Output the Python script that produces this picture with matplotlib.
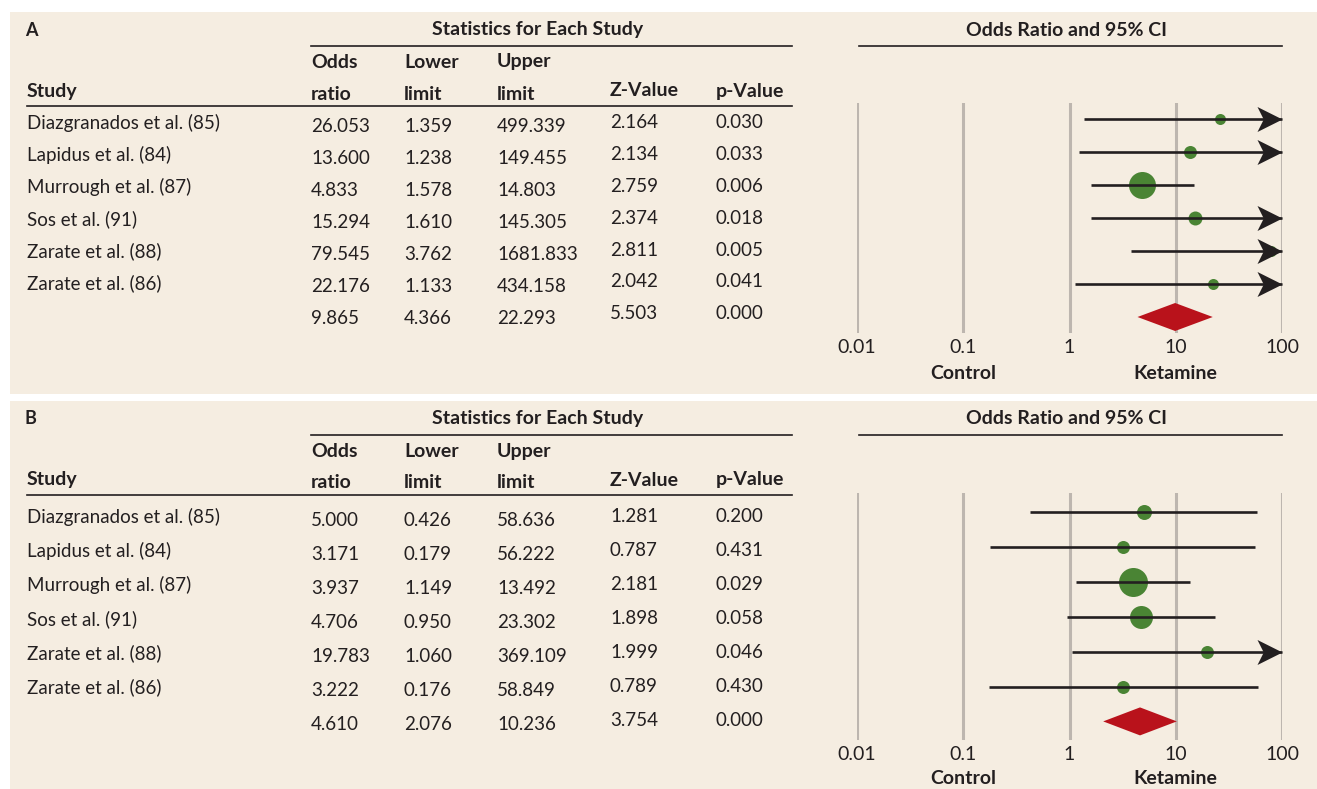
import matplotlib.pyplot as plt
from matplotlib.lines import Line2D
from matplotlib.patches import Rectangle
from matplotlib.path import Path
import matplotlib.transforms as mtransforms

plt.rcParams['font.family'] = ['Lato', 'DejaVu Sans']

# データ
studies = ["Diazgranados et al. (85)", "Lapidus et al. (84)", "Murrough et al. (87)",
           "Sos et al. (91)", "Zarate et al. (88)", "Zarate et al. (86)"]

# A
or_a = [26.053, 13.600, 4.833, 15.294, 79.545, 22.176]
lower_a = [1.359, 1.238, 1.578, 1.610, 3.762, 1.133]
upper_a = [499.339, 149.455, 14.803, 145.305, 1681.833, 434.158]
z_a = [2.164, 2.134, 2.759, 2.374, 2.811, 2.042]
p_a = [0.030, 0.033, 0.006, 0.018, 0.005, 0.041]
weight_a = [11, 13, 27, 14, 11, 11]  # 相対的な重み（円の大きさ）
summary_a = [9.865, 4.366, 22.293, 5.503, 0.000]

# B
or_b = [5.000, 3.171, 3.937, 4.706, 19.783, 3.222]
lower_b = [0.426, 0.179, 1.149, 0.950, 1.060, 0.176]
upper_b = [58.636, 56.222, 13.492, 23.302, 369.109, 58.849]
z_b = [1.281, 0.787, 2.181, 1.898, 1.999, 0.789]
p_b = [0.200, 0.431, 0.029, 0.058, 0.046, 0.430]
weight_b = [15, 13, 29, 23, 13, 13]
summary_b = [4.610, 2.076, 10.236, 3.754, 0.000]

ticks = [0.01, 0.1, 1, 10, 100]
tick_labels = ["0.01", "0.1", "1", "10", "100"]

W, H = 1317, 789
BG = "#F5EDE1"
TXT = "#231F20"
GREEN = "#4A8434"
RED = "#B9121B"
GRID = "#BDB6AF"
FS_BODY = 13.5
FS_HEAD = 14

fig = plt.figure(figsize=(W / 100, H / 100), dpi=100)
fig.patch.set_facecolor("white")


def fx(x):
    return x / W


def fy(y):
    return 1 - y / H


def text(x, y, s, **kw):
    kw.setdefault("color", TXT)
    kw.setdefault("va", "center")
    fig.text(fx(x), fy(y), s, **kw)


def hline(x0, x1, y, lw=1.2):
    fig.add_artist(Line2D([fx(x0), fx(x1)], [fy(y), fy(y)], color=TXT, lw=lw))


# 矢じり用のマーカー（先端が原点）
arrow_path = Path([(0, 0), (-1, 0.5), (-0.75, 0), (-1, -0.5), (0, 0)],
                  [Path.MOVETO, Path.LINETO, Path.LINETO, Path.LINETO, Path.CLOSEPOLY])


def panel(top, bottom, label, ors, lows, ups, zs, ps, weights, summary,
          row0, dy, name_y0, name_dy, grid_top, grid_bot, side_y):
    # 背景
    fig.add_artist(Rectangle((fx(10), fy(bottom)), fx(W) - fx(10), fy(top) - fy(bottom),
                             facecolor=BG, edgecolor="none", zorder=-10))
    head_y = top + 18
    text(25, head_y, label, fontsize=FS_HEAD - 1, fontweight="bold")
    text(538, head_y, "Statistics for Each Study", fontsize=FS_HEAD, fontweight="bold", ha="center")
    hline(311, 792, top + 34)
    text(1067, head_y, "Odds Ratio and 95% CI", fontsize=FS_HEAD, fontweight="bold", ha="center")
    hline(859, 1282, top + 34)

    # 表の見出し
    cols = [311, 404, 497, 610, 716]
    y1, y2 = top + 50, top + 82
    text(27, y2 - 3, "Study", fontsize=FS_HEAD, fontweight="bold")
    for x, s in zip(cols[:3], ["Odds", "Lower", "Upper"]):
        text(x, y1, s, fontsize=FS_HEAD, fontweight="bold")
    for x, s in zip(cols[:3], ["ratio", "limit", "limit"]):
        text(x, y2, s, fontsize=FS_HEAD, fontweight="bold")
    text(cols[3], y2 - 3, "Z-Value", fontsize=FS_HEAD, fontweight="bold")
    text(cols[4], y2 - 3, "p-Value", fontsize=FS_HEAD, fontweight="bold")
    hline(27, 792, top + 94)

    # 表の中身
    rows = list(zip(ors, lows, ups, zs, ps)) + [tuple(summary)]
    for i, r in enumerate(rows):
        yn = name_y0 + i * name_dy
        if i < len(studies):
            text(27, yn, studies[i], fontsize=FS_BODY)
        for x, v in zip(cols[:3], r[:3]):
            text(x, yn + 3, f"{v:.3f}", fontsize=FS_BODY)
        for x, v in zip(cols[3:], r[3:]):
            text(x, yn - 1, f"{v:.3f}", fontsize=FS_BODY)

    # フォレストプロット
    ax = fig.add_axes([fx(857), fy(grid_bot), fx(1282) - fx(857), fy(grid_top) - fy(grid_bot)])
    ax.set_xscale("log")
    ax.set_xlim(0.01, 100)
    ax.set_ylim((grid_bot - row0) / dy, (grid_top - row0) / dy)
    ax.patch.set_visible(False)
    for s in ax.spines.values():
        s.set_visible(False)
    ax.set_yticks([])
    ax.set_xticks(ticks)
    ax.set_xticklabels(tick_labels, fontsize=FS_HEAD, color=TXT)
    ax.minorticks_off()
    ax.tick_params(axis="x", length=0, pad=4)
    for t in ticks:
        ax.axvline(t, color=GRID, lw=2.2, zorder=0)

    xmax = ticks[-1]
    for i in range(len(ors)):
        ax.plot(ors[i], i, "o", ms=weights[i] * 0.72, color=GREEN, mec="none", zorder=2, clip_on=False)
        hi = min(ups[i], xmax)
        ax.plot([lows[i], hi], [i, i], color=TXT, lw=1.9, zorder=3, solid_capstyle="butt", clip_on=False)
        if ups[i] > xmax:
            ax.plot(xmax, i, marker=arrow_path, ms=36, color=TXT, mec="none", zorder=4, clip_on=False)
    n = len(ors)
    h = 14 / dy
    ax.fill([summary[1], summary[0], summary[2], summary[0]], [n, n - h, n, n + h],
            color=RED, lw=0, zorder=3)

    tr = mtransforms.blended_transform_factory(ax.transData, fig.transFigure)
    ax.text(0.1, fy(side_y), "Control", transform=tr, ha="center", va="center",
            fontsize=FS_HEAD, fontweight="bold", color=TXT)
    ax.text(10, fy(side_y), "Ketamine", transform=tr, ha="center", va="center",
            fontsize=FS_HEAD, fontweight="bold", color=TXT)


panel(12, 394, "A", or_a, lower_a, upper_a, z_a, p_a, weight_a, summary_a,
      row0=119, dy=33, name_y0=123, name_dy=32, grid_top=103, grid_bot=333, side_y=373)
panel(401, 789, "B", or_b, lower_b, upper_b, z_b, p_b, weight_b, summary_b,
      row0=512, dy=34.9, name_y0=517, name_dy=34, grid_top=493, grid_bot=740, side_y=779)

plt.savefig("out.png", dpi=100, facecolor=fig.get_facecolor())
